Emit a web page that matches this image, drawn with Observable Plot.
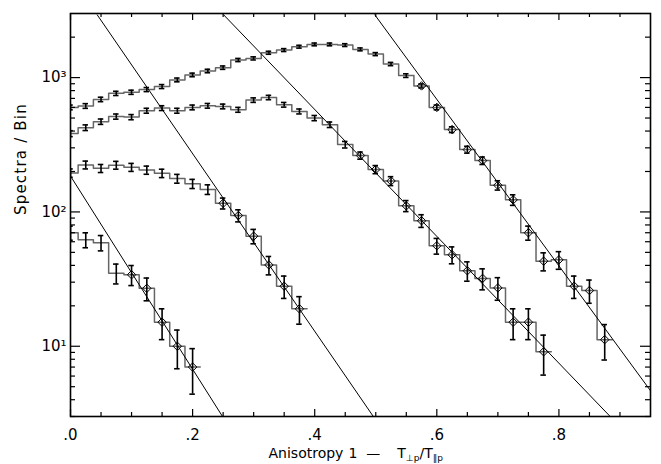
<!DOCTYPE html>
<html><head><meta charset="utf-8">
<script src="https://cdn.jsdelivr.net/npm/d3@7"></script>
<script src="https://cdn.jsdelivr.net/npm/@observablehq/plot@0.6"></script>
<style>html,body{margin:0;padding:0;background:#fff;}</style>
</head><body><div id="chart"></div>
<script>
// ---- data ----
const binCenters = [0, 0.025, 0.05, 0.075, 0.1, 0.125, 0.15, 0.175, 0.2, 0.225, 0.25, 0.275, 0.3, 0.325, 0.35, 0.375, 0.4, 0.425, 0.45, 0.475, 0.5, 0.525, 0.55, 0.575, 0.6, 0.625, 0.65, 0.675, 0.7, 0.725, 0.75, 0.775, 0.8, 0.825, 0.85, 0.875];
const binWidth = 0.025;
const seriesNames = ["s1", "s2", "s3", "s4"];
const spectra1 = [600, 615, 688, 763, 778, 815, 858, 961, 1047, 1120, 1186, 1352, 1390, 1531, 1603, 1698, 1766, 1766, 1746, 1622, 1496, 1262, 1035, 867, 600, 410, 291, 241, 158, 123, 70, 43, 44, 28, 26, 11.2];
const errors1  = [24.5, 24.8, 26.2, 27.6, 27.9, 28.5, 29.3, 31, 32.4, 33.5, 34.4, 36.8, 37.3, 39.1, 40, 41.2, 42, 42, 41.8, 40.3, 38.7, 35.5, 32.2, 29.4, 24.5, 20.2, 17.1, 15.5, 12.6, 11.1, 8.4, 6.6, 6.6, 5.3, 5.1, 3.3];
const spectra2 = [383, 424, 470, 513, 508, 567, 593, 567, 600, 617, 610, 576, 680, 711, 628, 560, 500, 446, 317, 263, 207, 170, 111, 86, 56, 48, 36.5, 32, 27.2, 15.1, 15.1, 9.1];
const errors2  = [19.6, 20.6, 21.7, 22.6, 22.5, 23.8, 24.4, 23.8, 24.5, 24.8, 24.7, 24, 26.1, 26.7, 25.1, 23.7, 22.4, 21.1, 17.8, 16.2, 14.4, 13, 10.5, 9.3, 7.5, 6.9, 6, 5.7, 5.2, 3.9, 3.9, 3];
const spectra3 = [195, 224, 211, 223, 215, 205, 194, 177, 162, 147, 116, 94, 66, 40.3, 28, 19];
const errors3  = [14, 15, 14.5, 14.9, 14.7, 14.3, 13.9, 13.3, 12.7, 12.1, 10.8, 9.7, 8.1, 6.3, 5.3, 4.4];
const spectra4 = [70, 62, 59, 35, 34.1, 27, 15.1, 10, 7];
const errors4  = [8.4, 7.9, 7.7, 5.9, 5.8, 5.2, 3.9, 3.2, 2.6];
// first bin of each fitted range (diamond markers)
const fitStart = [0.575, 0.475, 0.25, 0.1];
// exponential fit lines: two points each (x, spectra)
const fitXa = [0.4985, 0.2509, 0.0438, 0];
const fitYa = [2930, 2930, 2930, 185];
const fitXb = [0.953, 0.884, 0.496, 0.249];
const fitYb = [4.47, 3, 3, 3];
// axes
const xTickValues = [0, 0.2, 0.4, 0.6, 0.8];
const xMinorTicks = [0.05, 0.1, 0.15, 0.25, 0.3, 0.35, 0.45, 0.5, 0.55, 0.65, 0.7, 0.75, 0.85, 0.9];
const yTickValues = [10, 100, 1000];
const yMinorTicks = [3, 4, 5, 6, 7, 8, 9, 20, 30, 40, 50, 60, 70, 80, 90, 200, 300, 400, 500, 600, 700, 800, 900, 2000];
const xTitle = "Anisotropy 1 \u2014 T\u22A5p/T\u2225p";
const yTitle = "Spectra / Bin";

// ---- build tables ----
const spectra = [spectra1, spectra2, spectra3, spectra4];
const errors = [errors1, errors2, errors3, errors4];
const points = [];
spectra.forEach((vals, i) => vals.forEach((v, j) => points.push({
  series: seriesNames[i], x: binCenters[j], v, err: errors[i][j], fit: binCenters[j] >= fitStart[i] - 1e-9
})));
const steps = points.flatMap(p => [
  {series: p.series, x: p.x - binWidth / 2, v: p.v},
  {series: p.series, x: p.x + binWidth / 2, v: p.v}
]);
const fits = fitXa.flatMap((xa, i) => [
  {fit: i, x: xa, v: fitYa[i]},
  {fit: i, x: fitXb[i], v: fitYb[i]}
]);

// ---- layout ----
const W = 661, H = 464, mL = 70, mR = 11, mT = 13, mB = 48;
const innerW = W - mL - mR, innerH = H - mT - mB;
const cap = 0.0045;
const sup = {1: "\u00B9", 2: "\u00B2", 3: "\u00B3"};

const chart = Plot.plot({
  width: W, height: H,
  marginLeft: mL, marginRight: mR, marginTop: mT, marginBottom: mB,
  style: {fontFamily: "DejaVu Sans", fontSize: "15px", background: "white", color: "black"},
  x: {domain: [0, 0.95], ticks: xTickValues, tickSize: 0, tickPadding: 13,
      tickFormat: d => d3.format(".1f")(d).replace(/^0/, ""), label: null},
  y: {type: "log", domain: [3, 3000], ticks: yTickValues, tickSize: 0, tickPadding: 4,
      tickFormat: d => "10" + sup[Math.round(Math.log10(d))], label: null},
  marks: [
    Plot.line(steps, {x: "x", y: "v", z: "series", stroke: "#666", strokeWidth: 1.5, clip: true}),
    Plot.line(fits, {x: "x", y: "v", z: "fit", stroke: "black", strokeWidth: 1, clip: true}),
    Plot.ruleX(points, {x: "x", y1: d => d.v - d.err, y2: d => d.v + d.err, stroke: "black", strokeWidth: 1.6, clip: true}),
    Plot.ruleY(points, {y: d => d.v - d.err, x1: d => d.x - cap, x2: d => d.x + cap, stroke: "black", strokeWidth: 1.6, clip: true}),
    Plot.ruleY(points, {y: d => d.v + d.err, x1: d => d.x - cap, x2: d => d.x + cap, stroke: "black", strokeWidth: 1.6, clip: true}),
    Plot.dot(points.filter(d => d.fit), {x: "x", y: "v", symbol: "diamond2", r: 3.8, stroke: "black", strokeWidth: 1, fill: "none"}),
    // inward ticks on all four sides
    Plot.tickX(xTickValues, {x: d => d, insetTop: innerH - 7, stroke: "black", strokeWidth: 1.2}),
    Plot.tickX(xTickValues, {x: d => d, insetBottom: innerH - 7, stroke: "black", strokeWidth: 1.2}),
    Plot.tickX(xMinorTicks, {x: d => d, insetTop: innerH - 4, stroke: "black", strokeWidth: 1.2}),
    Plot.tickX(xMinorTicks, {x: d => d, insetBottom: innerH - 4, stroke: "black", strokeWidth: 1.2}),
    Plot.tickY(yTickValues, {y: d => d, insetRight: innerW - 10, stroke: "black", strokeWidth: 1.2}),
    Plot.tickY(yTickValues, {y: d => d, insetLeft: innerW - 10, stroke: "black", strokeWidth: 1.2}),
    Plot.tickY(yMinorTicks, {y: d => d, insetRight: innerW - 5, stroke: "black", strokeWidth: 1.2}),
    Plot.tickY(yMinorTicks, {y: d => d, insetLeft: innerW - 5, stroke: "black", strokeWidth: 1.2}),
    Plot.frame({stroke: "black", strokeWidth: 1.6}),
    Plot.text([xTitle], {text: d => d, frameAnchor: "bottom-left", textAnchor: "start", lineAnchor: "bottom", dx: 198, dy: 41.5, fontSize: 14, fill: "black"}),
    Plot.text([yTitle], {text: d => d, frameAnchor: "left", rotate: -90, lineAnchor: "bottom", dx: -45, fontSize: 15, fill: "black"})
  ]
});
document.getElementById("chart").append(chart);

// subscripts in the x title, spacing in the y title
const NS = "http://www.w3.org/2000/svg";
chart.querySelectorAll("text").forEach(t => {
  if (t.textContent === xTitle) {
    t.textContent = "";
    const parts = [
      {s: "Anisotropy"},
      {s: "1", dx: 5},
      {s: "\u2014", dx: 9},
      {s: "T", dx: 17},
      {s: "\u22A5p", size: 9, dy: 3},
      {s: "/T", size: 14, dy: -3},
      {s: "\u2225p", size: 9, dy: 3}
    ];
    parts.forEach(p => {
      const ts = document.createElementNS(NS, "tspan");
      ts.textContent = p.s;
      if (p.dx) ts.setAttribute("dx", p.dx);
      if (p.dy) ts.setAttribute("dy", p.dy);
      if (p.size) ts.setAttribute("font-size", p.size);
      t.appendChild(ts);
    });
  } else if (t.textContent === yTitle) {
    t.setAttribute("letter-spacing", "1.2");
  }
});
</script>
</body></html>
